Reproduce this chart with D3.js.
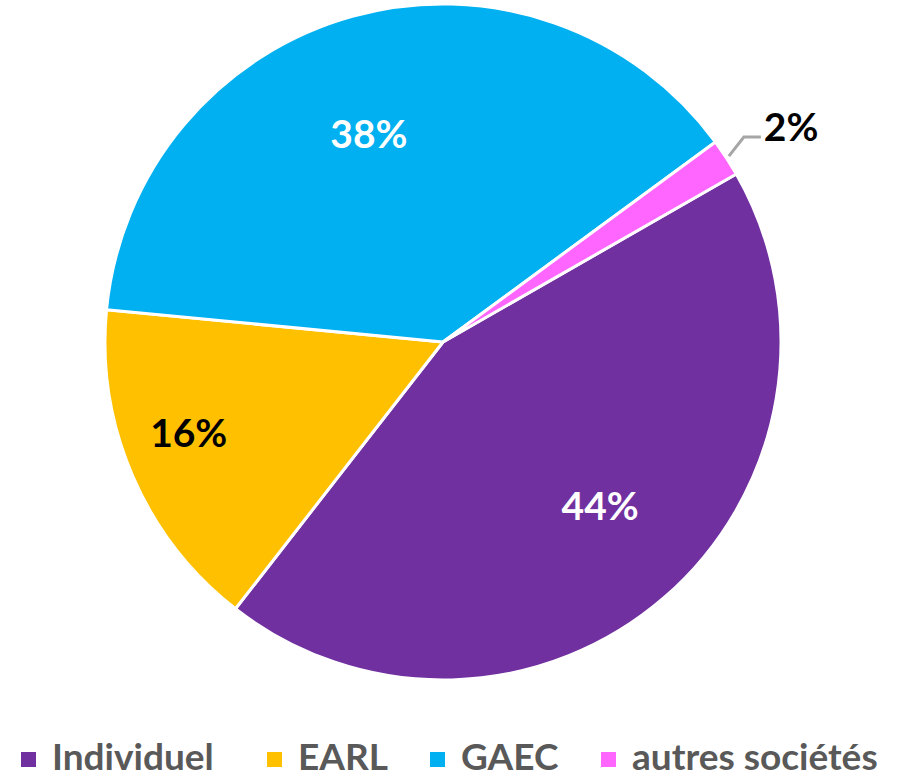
<!DOCTYPE html>
<html>
<head>
<meta charset="utf-8">
<style>
  body { margin: 0; background: #fff; }
  svg { display: block; font-family: Lato, "Open Sans", sans-serif; font-weight: bold; }
  .legend text { fill: #595959; }
</style>
</head>
<body>
<svg width="900" height="778"></svg>
<script src="https://d3js.org/d3.v7.min.js"></script>
<script>
  // data
  let categories = ["Individuel", "EARL", "GAEC", "autres sociétés"]
  let values = [43.8, 16.0, 38.4, 1.8]
  let labels = ["44%", "16%", "38%", "2%"]
  let colors = ["#7030A0", "#FFC000", "#00B0F0", "#FF66FF"]
  let labelColors = ["#fff", "#000", "#fff", "#000"]

  let width = 900, height = 778
  let cx = 443, cy = 342, radius = 338

  let svg = d3.select("svg")
  let data = categories.map((c, i) => ({ name: c, value: values[i], label: labels[i] }))

  let pie = d3.pie()
    .value(d => d.value)
    .sort(null)
    .startAngle(60.2 * Math.PI / 180)
    .endAngle(60.2 * Math.PI / 180 + 2 * Math.PI)

  let arcs = pie(data)
  let arc = d3.arc().innerRadius(0).outerRadius(radius)

  let g = svg.append("g").attr("transform", `translate(${cx},${cy})`)

  g.selectAll("path")
    .data(arcs)
    .join("path")
    .attr("d", arc)
    .attr("fill", (d, i) => colors[i])
    .attr("stroke", "#fff")
    .attr("stroke-width", 3)
    .attr("stroke-linejoin", "round")

  // inside labels sit at different distances, like Excel's best fit
  let labelR = [0.675, 0.8, 0.65]
  let labelShift = [-0.045, 0.06, -0.075]
  let fontSize = 39

  arcs.slice(0, 3).forEach((d, i) => {
    let a = (d.startAngle + d.endAngle) / 2 + labelShift[i]
    let r = radius * labelR[i]
    g.append("text")
      .attr("x", Math.sin(a) * r)
      .attr("y", -Math.cos(a) * r + 13)
      .attr("text-anchor", "middle")
      .style("font-size", fontSize + "px")
      .attr("fill", labelColors[i])
      .text(d.data.label)
  })

  // small slice: label outside with a leader line
  let small = arcs[3]
  let sa = (small.startAngle + small.endAngle) / 2
  let p0 = [Math.sin(sa) * (radius + 3), -Math.cos(sa) * (radius + 3)]
  let p1 = [p0[0] + 15, p0[1] - 19]
  let p2 = [p1[0] + 17, p1[1]]
  g.append("polyline")
    .attr("points", [p0, p1, p2].map(p => p.join(",")).join(" "))
    .attr("fill", "none")
    .attr("stroke", "#A6A6A6")
    .attr("stroke-width", 3)
  g.append("text")
    .attr("x", p2[0] + 3)
    .attr("y", p2[1] + 4)
    .style("font-size", fontSize + "px")
    .attr("fill", labelColors[3])
    .text(small.data.label)

  // legend
  let legendX = [21, 267, 430, 601]
  let legend = svg.append("g").attr("class", "legend")
  categories.forEach((c, i) => {
    legend.append("rect")
      .attr("x", legendX[i])
      .attr("y", 752)
      .attr("width", 15)
      .attr("height", 15)
      .attr("fill", colors[i])
    legend.append("text")
      .attr("x", legendX[i] + 31)
      .attr("y", 770)
      .style("font-size", "37px")
      .text(c)
  })
</script>
</body>
</html>
